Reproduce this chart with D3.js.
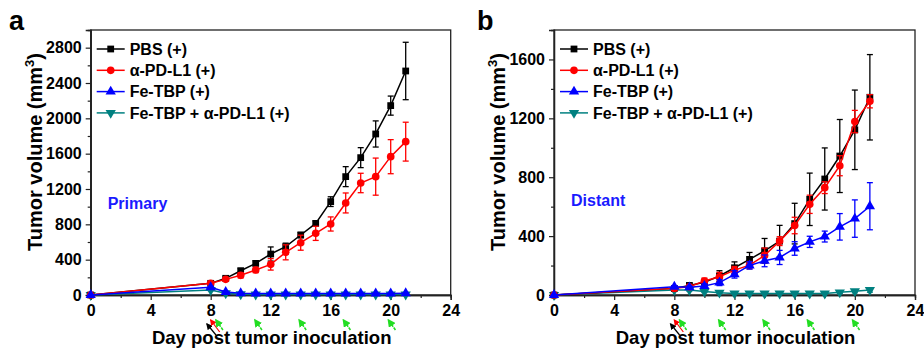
<!DOCTYPE html>
<html>
<head>
<meta charset="utf-8">
<script src="https://cdn.jsdelivr.net/npm/d3@7"></script>
<style>
  body { margin: 0; background: #fff; }
  text { font-family: "Liberation Sans", Arial, sans-serif; font-weight: bold; }
</style>
</head>
<body>
<script>
// days measured
const days = [0, 8, 9, 10, 11, 12, 13, 14, 15, 16, 17, 18, 19, 20, 21];
const groups = ["PBS (+)", "\u03b1-PD-L1 (+)", "Fe-TBP (+)", "Fe-TBP + \u03b1-PD-L1 (+)"];

// panel a - primary tumors
const pbsA = [0, 132, 189, 275, 358, 464, 547, 679, 811, 1057, 1340, 1555, 1823, 2144, 2536];
const pbsAErr = [0, 15, 20, 25, 28, 80, 40, 30, 25, 55, 113, 113, 148, 108, 325];
const antiA = [0, 132, 177, 223, 283, 347, 483, 592, 698, 804, 1042, 1268, 1340, 1566, 1736];
const antiAErr = [0, 15, 20, 30, 30, 65, 85, 85, 80, 80, 113, 110, 210, 193, 220];
const feA = [0, 87, 34, 19, 18, 17, 17, 17, 17, 17, 17, 17, 17, 17, 20];
const feAErr = [0, 10, 8, 5, 5, 5, 5, 5, 5, 5, 5, 5, 5, 5, 5];
const comboA = [0, 57, 19, 8, 6, 5, 5, 5, 5, 5, 5, 5, 5, 5, 5];
const comboAErr = [0, 8, 5, 3, 3, 3, 3, 3, 3, 3, 3, 3, 3, 3, 3];

// panel b - distant tumors
const pbsB = [0, 45, 65, 86, 129, 185, 242, 300, 366, 485, 650, 788, 944, 1122, 1343];
const pbsBErr = [0, 10, 15, 20, 36, 40, 47, 84, 107, 138, 178, 211, 248, 270, 290];
const antiB = [0, 45, 56, 95, 124, 169, 203, 269, 366, 472, 616, 729, 878, 1178, 1316];
const antiBErr = [0, 10, 10, 20, 30, 25, 25, 50, 30, 56, 62, 40, 68, 76, 45];
const feB = [0, 56, 52, 61, 84, 140, 201, 232, 255, 316, 361, 397, 463, 519, 603];
const feBErr = [0, 8, 10, 15, 20, 25, 25, 40, 48, 46, 38, 37, 90, 127, 160];
const comboB = [0, 34, 34, 23, 16, 11, 10, 10, 10, 10, 10, 10, 18, 25, 34];
const comboBErr = [0, 8, 8, 6, 5, 5, 4, 4, 4, 4, 4, 4, 8, 10, 15];

const yTicksA = [0, 400, 800, 1200, 1600, 2000, 2400, 2800];
const yTicksB = [0, 400, 800, 1200, 1600];
const xTicks = [0, 4, 8, 12, 16, 20, 24];

// treatment arrows (day of dose)
const pbsDose = [7.75];
const antiDose = [8.0];
const feDose = [8.35, 10.95, 13.9, 16.85, 19.85];

const colors = ["#000000", "#ff0000", "#0000ff", "#008080"];
const symbols = [d3.symbolSquare, d3.symbolCircle, d3.symbolTriangle, d3.symbolTriangle];

const svg = d3.select("body").append("svg")
  .attr("width", 924)
  .attr("height", 354);

const defs = svg.append("defs");
[["black", "#000"], ["red", "#ff0000"], ["green", "#22dd22"]].forEach(([id, c]) => {
  defs.append("marker")
    .attr("id", "arr-" + id)
    .attr("viewBox", "0 0 10 10")
    .attr("refX", 8).attr("refY", 5)
    .attr("markerWidth", 5.5).attr("markerHeight", 5.5)
    .attr("orient", "auto-start-reverse")
    .append("path")
    .attr("d", "M0,0 L10,5 L0,10 z")
    .attr("fill", c);
});

function drawPanel({ left, right, yMax, yTicks, data, label, note, labelX }) {
  const top = 30, bottom = 295;
  const x = d3.scaleLinear().domain([0, 24]).range([left, right]);
  const y = d3.scaleLinear().domain([0, yMax]).range([bottom, top]);
  const g = svg.append("g");

  // frame
  g.append("rect")
    .attr("x", left).attr("y", top)
    .attr("width", right - left).attr("height", bottom - top)
    .attr("fill", "none").attr("stroke", "#222").attr("stroke-width", 1.3);

  // y axis
  const yAx = g.append("g").attr("transform", `translate(${left},0)`)
    .call(d3.axisLeft(y).tickValues(yTicks).tickFormat(d3.format("d")).tickSize(5).tickPadding(4));
  yAx.append("g").call(d3.axisLeft(y)
    .tickValues(d3.range(200, yMax, 400)).tickSize(3).tickFormat(""));
  // x axis
  const xAx = g.append("g").attr("transform", `translate(0,${bottom})`)
    .call(d3.axisBottom(x).tickValues(xTicks).tickSize(5).tickPadding(5));
  xAx.append("g").call(d3.axisBottom(x)
    .tickValues(d3.range(2, 24, 4)).tickSize(3).tickFormat(""));
  g.selectAll(".domain").attr("stroke", "#222").attr("stroke-width", 1.3);
  g.selectAll(".tick line").attr("stroke", "#222").attr("stroke-width", 1.2);
  g.selectAll(".tick text").attr("font-size", 16).attr("fill", "#000")
    .attr("font-family", "Liberation Sans, Arial, sans-serif").attr("font-weight", "bold");

  // series, drawn back to front
  const order = [3, 0, 1, 2];
  for (const i of order) {
    const s = data[i];
    const pts = days.map((d, k) => ({ d, v: s.v[k], e: s.e[k] }));
    const sg = g.append("g");
    sg.append("path")
      .datum(pts)
      .attr("fill", "none")
      .attr("stroke", colors[i])
      .attr("stroke-width", 1.5)
      .attr("d", d3.line().x(p => x(p.d)).y(p => y(p.v)));
    const eb = sg.selectAll(".eb").data(pts.filter(p => p.e > 0)).join("g")
      .attr("stroke", colors[i]).attr("stroke-width", 1.3);
    eb.append("line")
      .attr("x1", p => x(p.d)).attr("x2", p => x(p.d))
      .attr("y1", p => y(p.v + p.e)).attr("y2", p => y(Math.max(0, p.v - p.e)));
    eb.append("line")
      .attr("x1", p => x(p.d) - 3).attr("x2", p => x(p.d) + 3)
      .attr("y1", p => y(p.v + p.e)).attr("y2", p => y(p.v + p.e));
    eb.append("line")
      .attr("x1", p => x(p.d) - 3).attr("x2", p => x(p.d) + 3)
      .attr("y1", p => y(Math.max(0, p.v - p.e))).attr("y2", p => y(Math.max(0, p.v - p.e)));
    sg.selectAll(".mk").data(pts).join("path")
      .attr("d", d3.symbol().type(symbols[i]).size(46))
      .attr("transform", p => `translate(${x(p.d)},${y(p.v)})${i === 3 ? " rotate(180)" : ""}`)
      .attr("fill", colors[i]);
  }

  // legend
  const lg = g.append("g");
  groups.forEach((name, i) => {
    const ly = 49 + i * 21.3;
    lg.append("line")
      .attr("x1", left + 6).attr("x2", left + 34)
      .attr("y1", ly).attr("y2", ly)
      .attr("stroke", colors[i]).attr("stroke-width", 1.5);
    lg.append("path")
      .attr("d", d3.symbol().type(symbols[i]).size(46))
      .attr("transform", `translate(${left + 20},${ly})${i === 3 ? " rotate(180)" : ""}`)
      .attr("fill", colors[i]);
    lg.append("text")
      .attr("x", left + 39).attr("y", ly)
      .attr("dy", "0.36em")
      .attr("font-size", 16)
      .text(name);
  });

  // note
  g.append("text")
    .attr("x", left + 17).attr("y", note.y)
    .attr("dy", "0.36em")
    .attr("font-size", 16)
    .attr("fill", "#1a1aff")
    .text(note.text);

  // panel letter
  g.append("text")
    .attr("x", labelX).attr("y", 30)
    .attr("font-size", 27)
    .text(label);

  // y title
  const yt = g.append("text")
    .attr("transform", `translate(${left - 49},152) rotate(-90)`)
    .attr("text-anchor", "middle")
    .attr("font-size", 20);
  yt.append("tspan").text("Tumor volume (mm");
  yt.append("tspan").attr("font-size", 13).attr("dy", "-0.6em").text("3");
  yt.append("tspan").attr("dy", "0.4em").text(")");

  // x title
  g.append("text")
    .attr("x", (x(0) + x(24)) / 2 + 1).attr("y", 344)
    .attr("text-anchor", "middle")
    .attr("font-size", 18.5)
    .text("Day post tumor inoculation");

  // dose arrows
  const arrows = [
    ...pbsDose.map(d => ({ d, id: "black", c: "#000", dx: 9, dy: 11 })),
    ...antiDose.map(d => ({ d, id: "red", c: "#ff0000", dx: 9, dy: 12 })),
    ...feDose.map(d => ({ d, id: "green", c: "#22dd22", dx: 7, dy: 10 }))
  ];
  g.selectAll(".arrow").data(arrows).join("line")
    .attr("x1", a => x(a.d) + a.dx).attr("y1", a => (a.id === "black" ? 324 : 320) + a.dy)
    .attr("x2", a => x(a.d)).attr("y2", a => a.id === "black" ? 324 : 320)
    .attr("stroke", a => a.c)
    .attr("stroke-width", a => a.id === "green" ? 1.5 : 1.2)
    .attr("stroke-dasharray", a => a.id === "green" ? "3,1" : null)
    .attr("marker-end", a => `url(#arr-${a.id})`);
}

drawPanel({
  left: 90.7, right: 450.7, yMax: 3000, yTicks: yTicksA,
  data: [
    { v: pbsA, e: pbsAErr }, { v: antiA, e: antiAErr },
    { v: feA, e: feAErr }, { v: comboA, e: comboAErr }
  ],
  label: "a", labelX: 9,
  note: { text: "Primary", y: 203 }
});

drawPanel({
  left: 554, right: 915, yMax: 1800, yTicks: yTicksB,
  data: [
    { v: pbsB, e: pbsBErr }, { v: antiB, e: antiBErr },
    { v: feB, e: feBErr }, { v: comboB, e: comboBErr }
  ],
  label: "b", labelX: 477,
  note: { text: "Distant", y: 200 }
});
</script>
</body>
</html>
